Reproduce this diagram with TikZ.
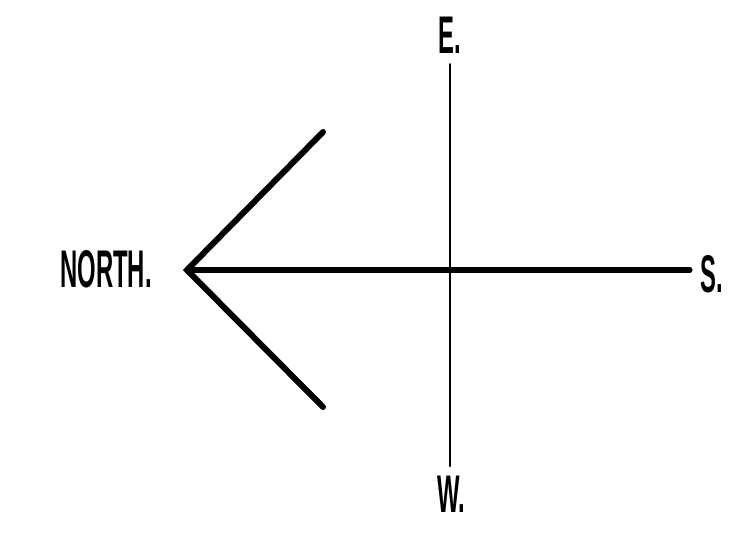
\documentclass[tikz,border=0pt]{standalone}
\usepackage{fontspec}
\setmainfont{Liberation Sans}[FakeStretch=0.45]

\begin{document}
\begin{tikzpicture}[x=0.5pt, y=-0.5pt, line cap=round]
  \useasboundingbox (0,0) rectangle (752,554);
  \tikzset{point/.style={font=\bfseries\fontsize{26.5}{30}\selectfont, inner sep=0pt, anchor=base}}

  \coordinate (A) at (187,270);
  \coordinate (B) at (323,132);
  \coordinate (C) at (323,407);
  \coordinate (S) at (690,270);
  \coordinate (E) at (450,64);
  \coordinate (W) at (450,466);

  \draw[line width=3pt] (B)--(A)--(C);
  \draw[line width=2.6pt] (A)--(S);
  \draw[line width=1pt] (E)--(W);

  \node[point] (north) at (106,287) {NORTH.};
  \node[point] (south) at (712,292) {S.};
  \node[point] (east) at (450,53) {E.};
  \node[point] (west) at (451,512) {W.};
\end{tikzpicture}
\end{document}
